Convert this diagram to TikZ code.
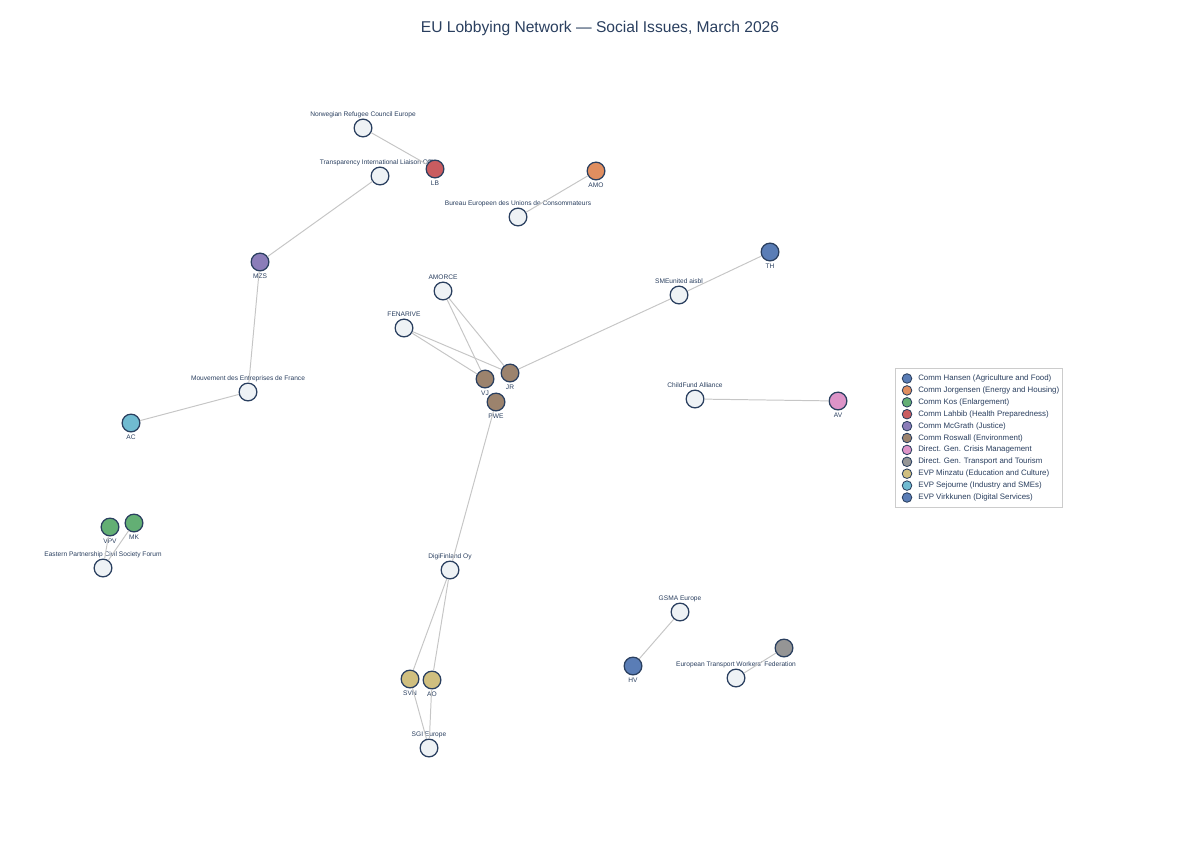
\documentclass[tikz,border=0pt]{standalone}
\usepackage{fontspec}
\setmainfont{Liberation Sans}
\usetikzlibrary{positioning}
\definecolor{inkblue}{HTML}{2A3F5F}
\definecolor{orgfill}{HTML}{EEF2F5}
\definecolor{edgegray}{HTML}{C6C6C6}
\definecolor{hansen}{HTML}{4C72B0}
\definecolor{jorgensen}{HTML}{DD8452}
\definecolor{kos}{HTML}{55A868}
\definecolor{lahbib}{HTML}{C44E52}
\definecolor{mcgrath}{HTML}{8172B3}
\definecolor{roswall}{HTML}{937860}
\definecolor{crisis}{HTML}{DA8BC3}
\definecolor{transport}{HTML}{8C8C8C}
\definecolor{minzatu}{HTML}{CCB974}
\definecolor{sejourne}{HTML}{64B5CD}
\definecolor{virkkunen}{HTML}{4C72B0}

\begin{document}
\begin{tikzpicture}[
    x=0.025cm, y=-0.025cm,
    font=\fontsize{4.7}{5.5}\selectfont, text=inkblue,
    lbl/.style={inner sep=0pt, text height=3.4pt, text depth=0.9pt, label distance=1.2pt},
    dot/.style={circle, draw=inkblue, line width=0.9pt, fill=orgfill, minimum size=12.6pt, inner sep=0pt},
    org/.style={dot, label={[lbl, label distance=0.6pt]above:#1}},
    comm/.style 2 args={dot, fill=#1!92!white, label={[lbl]below:#2}},
    link/.style={draw=edgegray, line width=0.7pt},
    key/.style={circle, draw=inkblue, line width=0.6pt, minimum size=6.8pt, inner sep=0pt}
]
\useasboundingbox (0,0) rectangle (1200,840);

% Title
\node[font=\fontsize{11.1}{14}\selectfont] (title) at (600,28) {EU Lobbying Network — Social Issues, March 2026};

% Organisations
\node[org=Norwegian Refugee Council Europe] (nrc) at (363,128) {};
\node[org=Transparency International Liaison Office] (til) at (380,176) {};
\node[org=Bureau Europeen des Unions de Consommateurs] (beuc) at (518,217) {};
\node[org=AMORCE] (amorce) at (443,291) {};
\node[org=SMEunited aisbl] (smeu) at (679,295) {};
\node[org=FENARIVE] (fenarive) at (404,328) {};
\node[org=Mouvement des Entreprises de France] (medef) at (248,392) {};
\node[org=ChildFund Alliance] (childfund) at (695,399) {};
\node[org=Eastern Partnership Civil Society Forum] (eap) at (103,568) {};
\node[org=DigiFinland Oy] (digifin) at (450,570) {};
\node[org=GSMA Europe] (gsma) at (680,612) {};
\node[org={European Transport Workers' Federation}] (etf) at (736,678) {};
\node[org=SGI Europe] (sgi) at (429,748) {};

% Commission members
\node[comm={lahbib}{LB}] (lb) at (435,169) {};
\node[comm={jorgensen}{AMO}] (amo) at (596,171) {};
\node[comm={mcgrath}{MZS}] (mzs) at (260,262) {};
\node[comm={virkkunen}{TH}] (th) at (770,252) {};
\node[comm={roswall}{JR}] (jr) at (510,373) {};
\node[comm={roswall}{VJ}] (vj) at (485,379) {};
\node[comm={roswall}{PWE}] (pwe) at (496,402) {};
\node[comm={crisis}{AV}] (av) at (838,401) {};
\node[comm={sejourne}{AC}] (ac) at (131,423) {};
\node[comm={kos}{VPV}] (vpv) at (110,527) {};
\node[comm={kos}{MK}] (mk) at (134,523) {};
\node[comm={hansen}{HV}] (hv) at (633,666) {};
\node[dot, fill=transport!92!white] (dgmove) at (784,648) {};
\node[comm={minzatu}{SVN}] (svn) at (410,679) {};
\node[comm={minzatu}{AO}] (ao) at (432,680) {};

% Links
\draw[link] (nrc) -- (lb);
\draw[link] (til) -- (mzs);
\draw[link] (amo) -- (beuc);
\draw[link] (mzs) -- (medef);
\draw[link] (medef) -- (ac);
\draw[link] (amorce) -- (vj);
\draw[link] (amorce) -- (jr);
\draw[link] (fenarive) -- (vj);
\draw[link] (fenarive) -- (jr);
\draw[link] (jr) -- (smeu);
\draw[link] (smeu) -- (th);
\draw[link] (pwe) -- (digifin);
\draw[link] (digifin) -- (svn);
\draw[link] (digifin) -- (ao);
\draw[link] (svn) -- (sgi);
\draw[link] (ao) -- (sgi);
\draw[link] (childfund) -- (av);
\draw[link] (vpv) -- (eap);
\draw[link] (mk) -- (eap);
\draw[link] (gsma) -- (hv);
\draw[link] (dgmove) -- (etf);

% Legend
\draw[draw=black!20, fill=white, line width=0.5pt] (895,368) rectangle (1062,507);
\foreach \c/\t [count=\i from 0] in {
    hansen/Comm Hansen (Agriculture and Food),
    jorgensen/Comm Jorgensen (Energy and Housing),
    kos/Comm Kos (Enlargement),
    lahbib/Comm Lahbib (Health Preparedness),
    mcgrath/Comm McGrath (Justice),
    roswall/Comm Roswall (Environment),
    crisis/Direct. Gen. Crisis Management,
    transport/Direct. Gen. Transport and Tourism,
    minzatu/EVP Minzatu (Education and Culture),
    sejourne/EVP Sejourne (Industry and SMEs),
    virkkunen/EVP Virkkunen (Digital Services)} {
  \node[key, fill=\c!92!white] (key\i) at (907,378.5+11.9*\i) {};
  \node[anchor=west, inner sep=0pt, font=\fontsize{5.6}{6.5}\selectfont] (entry\i) at (918,378.5+11.9*\i) {\t};
}
\end{tikzpicture}
\end{document}
